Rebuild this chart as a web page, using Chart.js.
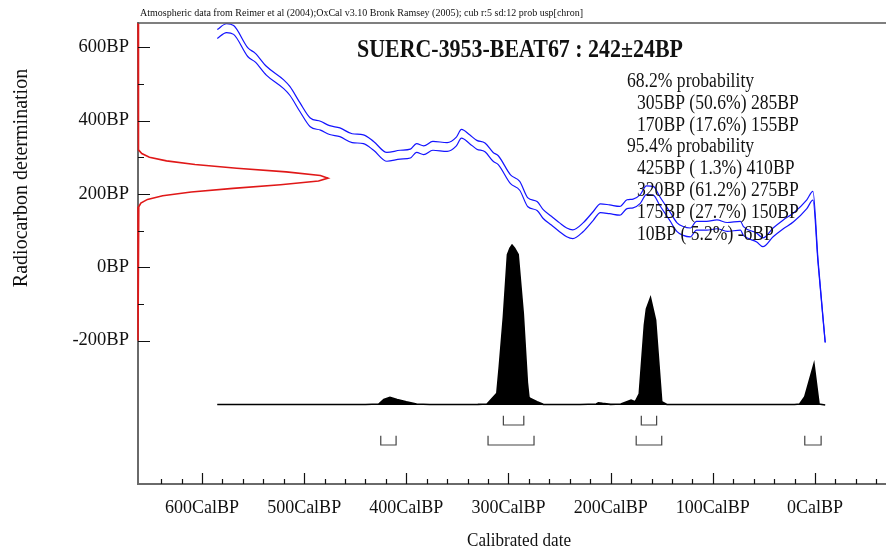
<!DOCTYPE html>
<html>
<head>
<meta charset="utf-8">
<script src="https://cdn.jsdelivr.net/npm/chart.js@4.4.0/dist/chart.umd.min.js"></script>
<style>
  html, body { margin: 0; padding: 0; background: #fff; }
  #wrap { width: 886px; height: 551px; }
</style>
</head>
<body>
<div id="wrap"><canvas id="calPlot" width="886" height="551"></canvas></div>
<script>
//<![CDATA[

// labels / text
let headerNote = 'Atmospheric data from Reimer et al (2004);OxCal v3.10 Bronk Ramsey (2005); cub r:5 sd:12 prob usp[chron]';
let sampleTitle = 'SUERC-3953-BEAT67 : 242\u00b124BP';
let xTitle = 'Calibrated date';
let yTitle = 'Radiocarbon determination';

// axis ticks
let xLabelTicks = [600, 500, 400, 300, 200, 100, 0];
let xMinorTicks = [640, 620, 580, 560, 540, 520, 480, 460, 440, 420, 380, 360, 340, 320, 280, 260, 240, 220,
    180, 160, 140, 120, 80, 60, 40, 20, -20, -40, -60];
let yLabelTicks = [-200, 0, 200, 400, 600];
let yMinorTicks = [-100, 100, 300, 500];

// calibration curve (cal BP -> 14C BP, mean and 1 sigma)
let curveCal = [585, 576, 569, 555, 548, 537, 520, 514, 504, 494, 484, 475, 465, 453, 442, 432, 419, 406, 396, 390,
    383, 374, 360, 351, 346, 338, 331, 323, 315, 310, 298, 289, 281, 272, 266, 258, 250, 243, 237, 227,
    217, 210, 201, 191, 184, 178, 171, 165, 158, 152, 142, 135, 129, 122, 116, 106, 96, 86, 73, 70,
    57, 51, 41, 31, 21, 8, 2, -3, -10];
let curveBP = [636, 652, 647, 586, 572, 536, 499, 481, 436, 395, 386, 374, 368, 352, 349, 331, 301, 307, 310, 325,
    319, 331, 328, 343, 364, 349, 334, 327, 301, 292, 240, 222, 177, 167, 145, 127, 109, 95, 90, 109,
    140, 161, 158, 154, 172, 174, 186, 210, 208, 181, 139, 109, 99, 95, 113, 113, 117, 110, 113, 99,
    81, 68, 95, 117, 136, 172, 195, 15, -205];
let curveSigma = [12, 12, 12, 12, 12, 12, 12, 12, 12, 12, 12, 12, 12, 12, 12, 12, 12, 12, 12, 12,
    12, 12, 12, 12, 12, 12, 12, 12, 12, 12, 12, 12, 12, 12, 12, 12, 12, 12, 12, 12,
    12, 12, 12, 12, 12, 12, 12, 12, 12, 12, 12, 12, 12, 12, 12, 12, 12, 12, 12, 12,
    12, 12, 12, 12, 12, 12, 12, 4, 1];

// measured date as a distribution on the radiocarbon axis
let measBP = [666, 330, 320, 310, 300, 290, 280, 270, 260, 250, 243, 235, 225, 215, 205, 195, 185, 175, 165, 155, -200];
let measProb = [0, 0, 0.005, 0.02, 0.06, 0.15, 0.30, 0.52, 0.78, 0.96, 1.0, 0.95, 0.75, 0.50, 0.28, 0.13, 0.05, 0.015, 0.004, 0, 0];

// calibrated distribution (relative)
let calDate = [585, 440, 427, 422, 416, 409, 400, 390, 377, 330, 321, 311.4, 309, 305, 301, 298.5, 296.5, 294, 290.5, 285.5,
    281.5, 280, 279, 272, 266, 230, 214, 212, 208, 200, 190, 180, 176, 172, 167, 165, 161, 156, 150, 145,
    20, 15, 10, 1, -4, -10];
let calProb = [0.003, 0.003, 0.006, 0.035, 0.048, 0.035, 0.02, 0.006, 0.003, 0.004, 0.006, 0.073, 0.24, 0.55, 0.94, 0.98, 1.0, 0.98, 0.94, 0.57,
    0.14, 0.05, 0.042, 0.02, 0.004, 0.003, 0.006, 0.014, 0.01, 0.004, 0.006, 0.03, 0.02, 0.07, 0.5, 0.6, 0.67, 0.53, 0.02, 0.003,
    0.003, 0.006, 0.052, 0.256, 0.006, 0];

// highest probability ranges
let hpd68From = [305, 170];
let hpd68To = [285, 155];
let hpd68Pct = [50.6, 17.6];
let hpd95From = [425, 320, 175, 10];
let hpd95To = [410, 275, 150, -6];
let hpd95Pct = [1.3, 61.2, 27.7, 5.2];

const serif = '"Liberation Serif", "Times New Roman", serif';

function bracketPoints(froms, tos, top, bottom) {
    let pts = [];
    for (let i = 0; i < froms.length; i++) {
        pts.push({ x: froms[i], y: top }, { x: froms[i], y: bottom }, { x: tos[i], y: bottom }, { x: tos[i], y: top });
        pts.push({ x: tos[i], y: null });
    }
    return pts;
}

function rangeLine(a, p, b) {
    let pct = p.toFixed(1);
    if (pct.length < 4) pct = ' ' + pct;
    return a + 'BP (' + pct + '%) ' + b + 'BP';
}

function squeezed(ctx, str, x, y, sx) {
    ctx.save();
    ctx.translate(x, y);
    ctx.scale(sx, 1);
    ctx.fillText(str, 0, 0);
    ctx.restore();
}

// inward tick marks, as OxCal draws them
const tickMarks = {
    id: 'tickMarks',
    afterDraw(chart) {
        const { ctx, chartArea, scales } = chart;
        ctx.save();
        ctx.strokeStyle = '#111';
        ctx.lineWidth = 1.2;
        ctx.beginPath();
        yLabelTicks.forEach(v => {
            let py = Math.round(scales.y.getPixelForValue(v)) + 0.5;
            ctx.moveTo(chartArea.left, py);
            ctx.lineTo(chartArea.left + 12, py);
        });
        yMinorTicks.forEach(v => {
            let py = Math.round(scales.y.getPixelForValue(v)) + 0.5;
            ctx.moveTo(chartArea.left, py);
            ctx.lineTo(chartArea.left + 6, py);
        });
        xLabelTicks.forEach(v => {
            let px = Math.round(scales.x.getPixelForValue(v)) + 0.5;
            ctx.moveTo(px, chartArea.bottom);
            ctx.lineTo(px, chartArea.bottom - 11);
        });
        xMinorTicks.forEach(v => {
            let px = Math.round(scales.x.getPixelForValue(v)) + 0.5;
            ctx.moveTo(px, chartArea.bottom);
            ctx.lineTo(px, chartArea.bottom - 5);
        });
        ctx.stroke();
        ctx.restore();
    }
};

// frame top line and all the text blocks
const annotations = {
    id: 'annotations',
    afterDraw(chart) {
        const { ctx, chartArea } = chart;
        ctx.save();
        ctx.strokeStyle = '#555';
        ctx.lineWidth = 1.5;
        ctx.beginPath();
        ctx.moveTo(chartArea.left, chartArea.top);
        ctx.lineTo(chartArea.right, chartArea.top);
        ctx.stroke();

        ctx.fillStyle = '#111';
        ctx.textAlign = 'left';
        ctx.textBaseline = 'alphabetic';

        ctx.font = '10px ' + serif;
        squeezed(ctx, headerNote, 140, 15.5, 443 / ctx.measureText(headerNote).width);

        ctx.font = 'bold 25px ' + serif;
        squeezed(ctx, sampleTitle, 357, 57, 326 / ctx.measureText(sampleTitle).width);

        ctx.font = '20px ' + serif;
        let lines = [];
        lines.push(['68.2% probability', 627]);
        hpd68From.forEach((a, i) => lines.push([rangeLine(a, hpd68Pct[i], hpd68To[i]), 637]));
        lines.push(['95.4% probability', 627]);
        hpd95From.forEach((a, i) => lines.push([rangeLine(a, hpd95Pct[i], hpd95To[i]), 637]));
        lines.forEach((l, i) => squeezed(ctx, l[0], l[1], 86.7 + i * 21.9, 0.88));

        ctx.textAlign = 'center';
        ctx.textBaseline = 'middle';
        ctx.font = '19px ' + serif;
        squeezed(ctx, xTitle, 519, 541, 0.9);

        ctx.font = '20px ' + serif;
        ctx.translate(22, 178);
        ctx.rotate(-Math.PI / 2);
        ctx.fillText(yTitle, 0, 0);
        ctx.restore();
    }
};

$ready = function() {
    const ctx = document.getElementById('calPlot');
    const myChart = new Chart(ctx, {
        type: 'line',
        data: {
            datasets: [
                {
                    label: 'measurement',
                    data: measBP.map((v, i) => ({ x: measProb[i], y: v })),
                    xAxisID: 'xd',
                    yAxisID: 'y',
                    borderColor: '#e01818',
                    borderWidth: 1.6,
                    clip: false,
                    fill: false
                },
                {
                    label: 'curve upper',
                    data: curveCal.map((c, i) => ({ x: c, y: curveBP[i] + curveSigma[i] })),
                    xAxisID: 'x',
                    yAxisID: 'y',
                    borderColor: '#1414ff',
                    borderWidth: 1.2,
                    cubicInterpolationMode: 'monotone',
                    fill: false
                },
                {
                    label: 'curve lower',
                    data: curveCal.map((c, i) => ({ x: c, y: curveBP[i] - curveSigma[i] })),
                    xAxisID: 'x',
                    yAxisID: 'y',
                    borderColor: '#1414ff',
                    borderWidth: 1.2,
                    cubicInterpolationMode: 'monotone',
                    fill: false
                },
                {
                    label: 'calibrated',
                    data: calDate.map((c, i) => ({ x: c, y: calProb[i] })),
                    xAxisID: 'x',
                    yAxisID: 'yp',
                    borderColor: '#000',
                    backgroundColor: '#000',
                    borderWidth: 1.6,
                    fill: 'origin'
                },
                {
                    label: '68.2%',
                    data: bracketPoints(hpd68From, hpd68To, -0.067, -0.125),
                    xAxisID: 'x',
                    yAxisID: 'yp',
                    borderColor: '#444',
                    borderWidth: 1.2,
                    fill: false
                },
                {
                    label: '95.4%',
                    data: bracketPoints(hpd95From, hpd95To, -0.192, -0.25),
                    xAxisID: 'x',
                    yAxisID: 'yp',
                    borderColor: '#444',
                    borderWidth: 1.2,
                    fill: false
                }
            ]
        },
        options: {
            responsive: false,
            animation: false,
            events: [],
            layout: {
                padding: { top: 23, right: 0, bottom: 0, left: 0 }
            },
            elements: {
                point: { radius: 0 },
                line: { tension: 0 }
            },
            plugins: {
                legend: { display: false },
                tooltip: { enabled: false },
                title: { display: false }
            },
            scales: {
                x: {
                    type: 'linear',
                    position: 'bottom',
                    reverse: true,
                    min: -69.5,
                    max: 662.6,
                    afterFit: function(s) { s.height = 67; },
                    afterBuildTicks: function(s) { s.ticks = xLabelTicks.map(v => ({ value: v })); },
                    grid: { drawOnChartArea: false, drawTicks: false },
                    border: { display: true, color: '#6a6a6a', width: 2 },
                    ticks: {
                        autoSkip: false,
                        maxRotation: 0,
                        padding: 13,
                        color: '#111',
                        font: { family: serif, size: 18 },
                        callback: v => v + 'CalBP'
                    }
                },
                y: {
                    type: 'linear',
                    position: 'left',
                    min: -591,
                    max: 666,
                    afterFit: function(s) { s.width = 138; },
                    afterBuildTicks: function(s) { s.ticks = yLabelTicks.map(v => ({ value: v })); },
                    grid: { drawOnChartArea: false, drawTicks: false },
                    border: { display: true, color: '#6a6a6a', width: 2 },
                    ticks: {
                        padding: 9,
                        color: '#111',
                        font: { family: serif, size: 18.5 },
                        callback: v => v + 'BP'
                    }
                },
                xd: { type: 'linear', display: false, position: 'top', min: 0, max: 3.937 },
                yp: { type: 'linear', display: false, position: 'right', min: -0.49375, max: 2.3875 }
            }
        },
        plugins: [tickMarks, annotations]
    });
};
$ready();

// ]]>
</script>
</body>
</html>
